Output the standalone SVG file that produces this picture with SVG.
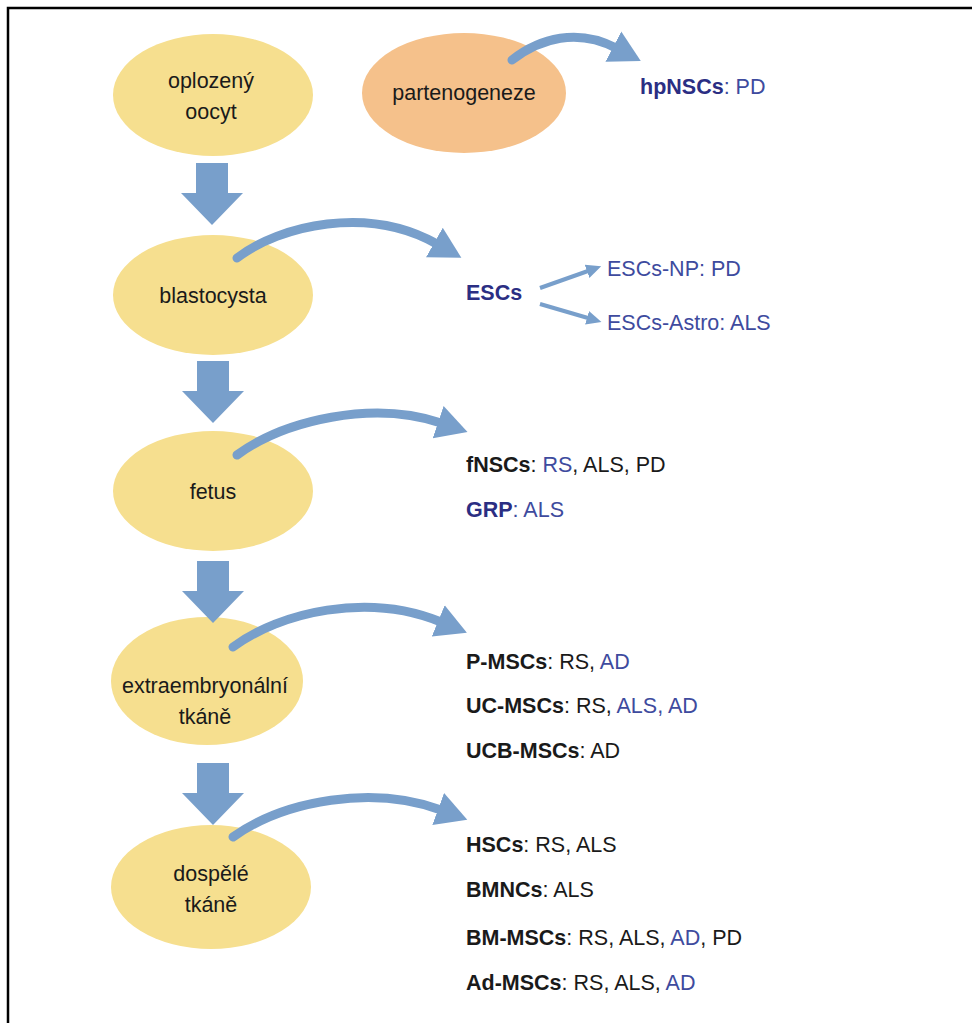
<svg xmlns="http://www.w3.org/2000/svg" width="972" height="1023" viewBox="0 0 972 1023">
<style>
.bg{fill:#ffffff}
.frame{stroke:#000;stroke-width:2.5;fill:none}
.yel{fill:#f6df8f}
.org{fill:#f5c18b}
.lbl{font-family:"Liberation Sans",Arial,sans-serif;font-size:21.5px;fill:#1a1a1a;text-anchor:middle}
.t{font-family:"Liberation Sans",Arial,sans-serif;font-size:21.5px;fill:#1a1a1a}
.b{font-weight:bold}
.nv{fill:#2b2e83}
.bl{fill:#3e4b9e}
.curve{fill:none;stroke:#789fcb;stroke-width:9;stroke-linecap:round}
.thin{fill:none;stroke:#789fcb;stroke-width:4}
.blk{fill:#789fcb}
</style>
<defs>
<marker id="head" markerUnits="userSpaceOnUse" markerWidth="36" markerHeight="38" viewBox="0 -19 36 38" refX="3" refY="0" orient="auto">
<path d="M0,-17 L31,0 L0,17 z" fill="#789fcb"/>
</marker>
<marker id="shead" markerUnits="userSpaceOnUse" markerWidth="18" markerHeight="18" viewBox="0 -9 18 18" refX="1" refY="0" orient="auto">
<path d="M0,-7 L15,0 L0,7 z" fill="#789fcb"/>
</marker>
<path id="down" d="M-16,0 H16 V30 H31 L0,62 L-31,30 H-16 z"/>
</defs>
<rect class="bg" x="0" y="0" width="972" height="1023"/>
<path class="frame" d="M8,1023 V8 H972"/>

<g id="n-oocyt">
<ellipse class="yel" cx="213" cy="95" rx="100" ry="61"/>
<text class="lbl" x="211" y="88">oplozený</text>
<text class="lbl" x="211" y="119">oocyt</text>
</g>
<g id="n-parten">
<ellipse class="org" cx="464" cy="93" rx="102" ry="60"/>
<text class="lbl" x="464" y="100">partenogeneze</text>
</g>
<g id="n-blast">
<ellipse class="yel" cx="213" cy="295" rx="100" ry="60"/>
<text class="lbl" x="213" y="303">blastocysta</text>
</g>
<g id="n-fetus">
<ellipse class="yel" cx="213" cy="491" rx="100" ry="60"/>
<text class="lbl" x="213" y="499">fetus</text>
</g>
<g id="n-extra">
<ellipse class="yel" cx="207" cy="681" rx="96" ry="64"/>
<text class="lbl" x="205" y="693">extraembryonální</text>
<text class="lbl" x="205" y="724">tkáně</text>
</g>
<g id="n-adult">
<ellipse class="yel" cx="211" cy="887" rx="100" ry="62"/>
<text class="lbl" x="211" y="881">dospělé</text>
<text class="lbl" x="211" y="912">tkáně</text>
</g>

<g id="connectors">
<use href="#down" class="blk" x="212" y="163"/>
<use href="#down" class="blk" x="213" y="361"/>
<use href="#down" class="blk" x="213" y="561"/>
<use href="#down" class="blk" x="213" y="763"/>
<path class="curve" d="M512,60 C540,38 578,28 616,48" marker-end="url(#head)"/>
<path class="curve" d="M237,258 C280,225 368,205 437,244" marker-end="url(#head)"/>
<path class="curve" d="M237,455 C285,420 373,400 441,423" marker-end="url(#head)"/>
<path class="curve" d="M233,647 C280,612 368,592 441,622" marker-end="url(#head)"/>
<path class="curve" d="M233,837 C285,800 373,785 441,810" marker-end="url(#head)"/>
<path class="thin" d="M540,288 L588,271" marker-end="url(#shead)"/>
<path class="thin" d="M540,304 L588,318" marker-end="url(#shead)"/>
</g>

<g id="n-hpnsc"><text class="t" x="640" y="94"><tspan class="b nv">hpNSCs</tspan><tspan class="bl">: PD</tspan></text></g>
<g id="n-esc"><text class="t b nv" x="466" y="300">ESCs</text></g>
<g id="n-escnp"><text class="t bl" x="607" y="276">ESCs-NP: PD</text></g>
<g id="n-escastro"><text class="t bl" x="607" y="330">ESCs-Astro: ALS</text></g>
<g id="n-fnsc"><text class="t" x="466" y="472"><tspan class="b">fNSCs</tspan>: <tspan class="bl">RS</tspan>, ALS, PD</text></g>
<g id="n-grp"><text class="t" x="466" y="517"><tspan class="b nv">GRP</tspan><tspan class="bl">: ALS</tspan></text></g>
<g id="n-pmsc"><text class="t" x="466" y="669"><tspan class="b">P-MSCs</tspan>: RS, <tspan class="bl">AD</tspan></text></g>
<g id="n-ucmsc"><text class="t" x="466" y="713"><tspan class="b">UC-MSCs</tspan>: RS, <tspan class="bl">ALS, AD</tspan></text></g>
<g id="n-ucbmsc"><text class="t" x="466" y="758"><tspan class="b">UCB-MSCs</tspan>: AD</text></g>
<g id="n-hsc"><text class="t" x="466" y="852"><tspan class="b">HSCs</tspan>: RS, ALS</text></g>
<g id="n-bmnc"><text class="t" x="466" y="897"><tspan class="b">BMNCs</tspan>: ALS</text></g>
<g id="n-bmmsc"><text class="t" x="466" y="945"><tspan class="b">BM-MSCs</tspan>: RS, ALS, <tspan class="bl">AD</tspan>, PD</text></g>
<g id="n-admsc"><text class="t" x="466" y="990"><tspan class="b">Ad-MSCs</tspan>: RS, ALS, <tspan class="bl">AD</tspan></text></g>
</svg>
